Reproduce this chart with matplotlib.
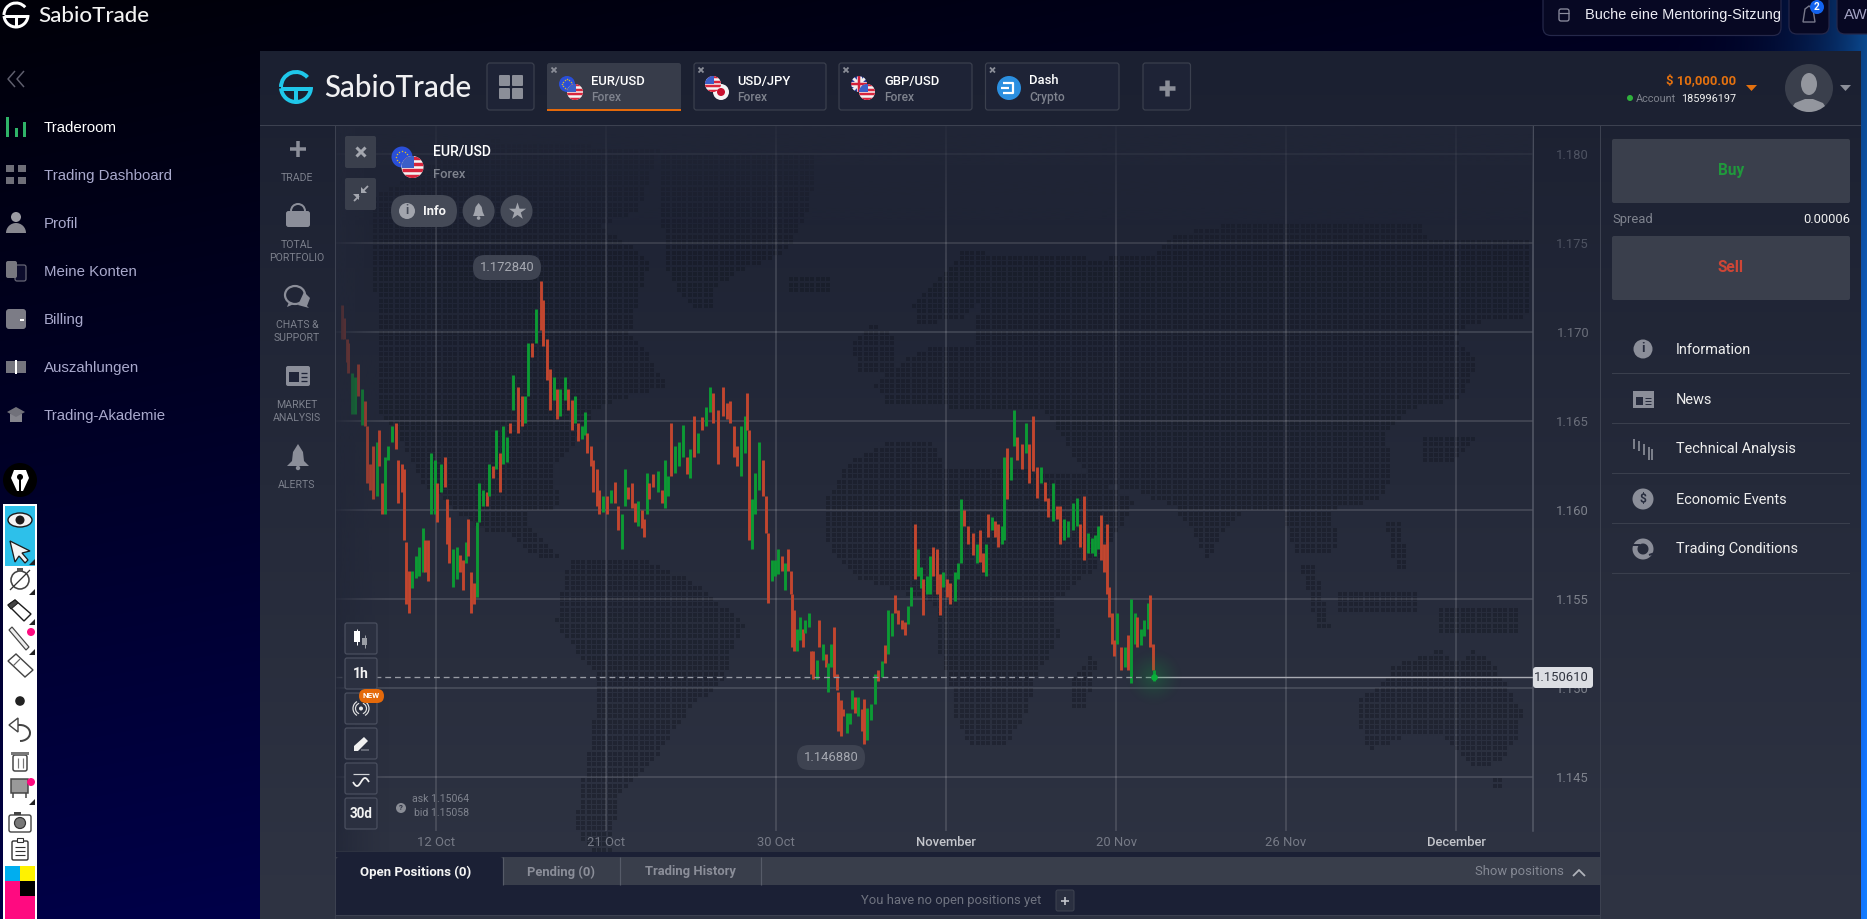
import numpy as np
import matplotlib
matplotlib.use("Agg")
import matplotlib.pyplot as plt
from matplotlib.patches import FancyBboxPatch, Circle, Polygon, Rectangle, Ellipse, Arc, Wedge
from matplotlib.path import Path

# ---------- DATA ----------
hours = [-94,-92,-89,-88,-84,-81,-78,-74,-71,-69,-66,-63,-59,-57,-54,-51,-48,-44,-40,-38,-34,-32,-30,-27,-24,-20,-17,-13,-11,-8,-5,-1,1,5,9,11,13,17,21,24,27,30,32,35,38,41,43,47,51,53,57,60,64,67,71,74,77,82,86,89,92,96,100,105,107,111,114,118,121,124,129,132,136,139,142,146,149,151,155,157,161,163,167,171,175,179,182,186,189,192,196,199,202,206,208,211,213,217,222,226,229,232,235,239,243,247,251,254,258,262,266,270,274,277,282,287,291,294,298,301,305,309,311,313,316,319,323,327,330,332,
 336,339,342,346,349,352,355,356,358,361,364,367,369,373,375,377,381,383,387,390,392,395,398,401,402,405,407,411,414,416,419,422,426,428,431,435,439,442,446,449,452,456,459,462,466,469,472,475,479,482,485,487,491,494,497,501,504,507,511,514,519,522,525,528,532,537,541,544,547,550,552,556,559,562,566,568,571,575,578,581,586,590,593,597,601,605,609,612,617,621,624,628,632,637,641,644,648,652,656,659,662,665,668,671,673,676,678,681,685,689,692,695,699,701,705,708,712,714,717,718]
highs = [1.1715,1.1708,1.1696,1.1694,1.1677,1.1675,1.1682,1.1668,1.1661,1.1647,1.1626,1.1636,1.1638,1.1645,1.1615,1.1630,1.1636,1.1647,1.1649,1.1628,1.1626,1.1623,1.1582,1.1566,1.1566,1.1574,1.1579,1.1590,1.1583,1.1583,1.1632,1.1628,1.1615,1.1626,1.1630,1.1606,1.1596,1.1578,1.1579,1.1575,1.1572,1.1582,1.1595,1.1565,1.1559,1.1593,1.1615,1.1611,1.1610,1.1626,1.1625,1.1645,1.1632,1.1647,1.1641,1.1649,1.1676,1.1669,1.1664,1.1664,1.1694,1.1694,1.1713,1.17284,1.1718,1.1696,1.1679,1.1675,1.1668,1.1668,1.1675,1.1668,1.1662,1.1664,1.1649,1.1647,1.1655,1.1643,1.1636,1.1628,1.1623,1.1611,1.1608,1.1608,1.1611,1.1616,1.1602,1.1598,1.1623,1.1613,1.1615,1.1604,1.1605,1.1600,1.1595,1.1621,1.1615,1.1620,1.1622,1.1611,1.1628,1.1619,1.1649,1.1636,1.1638,1.1648,1.1630,1.1634,1.1653,1.1643,1.1652,1.1658,1.1669,1.1666,1.1656,1.1669,1.1660,1.1661,1.1647,1.1636,1.1647,1.1653,1.1666,1.1645,1.1606,1.1621,1.1638,1.1628,1.1608,1.1587,
 1.1572,1.1572,1.1578,1.1574,1.1570,1.1578,1.1566,1.1553,1.1544,1.1533,1.1540,1.1533,1.1538,1.1542,1.1521,1.1521,1.1516,1.1538,1.1525,1.1519,1.1514,1.1525,1.1534,1.1508,1.1498,1.1493,1.1488,1.1486,1.1486,1.1499,1.1495,1.1495,1.1488,1.1494,1.1489,1.1491,1.1508,1.1510,1.1515,1.1524,1.1544,1.1542,1.1552,1.1544,1.1538,1.1537,1.1546,1.1557,1.1592,1.1578,1.1568,1.1561,1.1563,1.1574,1.1579,1.1578,1.1564,1.1565,1.1561,1.1559,1.1565,1.1570,1.1606,1.1600,1.1591,1.1587,1.1581,1.1589,1.1576,1.1581,1.1598,1.1596,1.1594,1.1592,1.1591,1.1630,1.1635,1.1630,1.1656,1.1641,1.1637,1.1649,1.1637,1.1653,1.1624,1.1624,1.1616,1.1607,1.1615,1.1602,1.1602,1.1595,1.1594,1.1604,1.1607,1.1592,1.1608,1.1587,1.1584,1.1586,1.1591,1.1597,1.1581,1.1592,1.1557,1.1542,1.1527,1.1542,1.1523,1.1523,1.1530,1.1550,1.1542,1.1540,1.1533,1.1538,1.1548,1.1552,1.1525,1.1510]
lows = [1.1696,1.1696,1.1683,1.1677,1.1654,1.1654,1.1664,1.1648,1.1647,1.1615,1.1611,1.1606,1.1608,1.1625,1.1598,1.1598,1.1628,1.1638,1.1634,1.1604,1.1610,1.1583,1.1547,1.1542,1.1556,1.1562,1.1563,1.1565,1.1565,1.1560,1.1598,1.1598,1.1593,1.1610,1.1613,1.1581,1.1570,1.1557,1.1561,1.1565,1.1555,1.1570,1.1574,1.1542,1.1547,1.1551,1.1593,1.1602,1.1602,1.1608,1.1618,1.1623,1.1610,1.1626,1.1627,1.1643,1.1656,1.1643,1.1647,1.1649,1.1664,1.1686,1.1694,1.1701,1.1692,1.1673,1.1656,1.1662,1.1651,1.1653,1.1662,1.1656,1.1645,1.1649,1.1639,1.1640,1.1642,1.1632,1.1625,1.1610,1.1602,1.1598,1.1599,1.1598,1.1604,1.1604,1.1589,1.1578,1.1602,1.1606,1.1601,1.1593,1.1591,1.1590,1.1585,1.1598,1.1606,1.1613,1.1610,1.1604,1.1601,1.1608,1.1619,1.1621,1.1625,1.1630,1.1620,1.1618,1.1630,1.1632,1.1645,1.1647,1.1655,1.1649,1.1626,1.1653,1.1651,1.1649,1.1630,1.1625,1.1619,1.1632,1.1645,1.1583,1.1578,1.1598,1.1611,1.1608,1.1587,1.1548,
 1.1560,1.1563,1.1564,1.1566,1.1555,1.1566,1.1553,1.1523,1.1521,1.1521,1.1527,1.1523,1.1531,1.1534,1.1508,1.1505,1.1505,1.1523,1.1516,1.1512,1.1498,1.1512,1.1506,1.1499,1.1476,1.1473,1.1484,1.1475,1.1480,1.1488,1.1486,1.1484,1.1476,1.14688,1.1471,1.1482,1.1491,1.1504,1.1506,1.1514,1.1519,1.1529,1.1542,1.1536,1.1533,1.1530,1.1536,1.1546,1.1561,1.1563,1.1556,1.1541,1.1553,1.1553,1.1563,1.1553,1.1541,1.1557,1.1551,1.1547,1.1549,1.1561,1.1570,1.1591,1.1581,1.1575,1.1570,1.1571,1.1565,1.1563,1.1585,1.1589,1.1585,1.1579,1.1581,1.1583,1.1606,1.1617,1.1636,1.1628,1.1623,1.1632,1.1615,1.1622,1.1607,1.1615,1.1605,1.1596,1.1594,1.1595,1.1581,1.1583,1.1585,1.1589,1.1591,1.1579,1.1572,1.1576,1.1576,1.1574,1.1578,1.1572,1.1565,1.1553,1.1540,1.1525,1.1518,1.1525,1.1510,1.1512,1.1510,1.1503,1.1525,1.1523,1.1524,1.1529,1.1533,1.1523,1.1510,1.1504]
# u = the candle rose, d = the candle fell; ten candles per group
direction_groups = [
 "dddduududd","ddudduuudd","dddduuuudd","uududdduud","duddduuudu","duduududdu","ududdddudu",
 "udduduuddd","ddududduud","ddudduddud","uuduuududu","duuddddddd","uudduuuddd",
 "uuududdddu","uduuddudud","uuddddduuu","dudduuudud","uudddduudu","uduudddudd","uuuddduddu",
 "dudduuduud","duddduddud","duuuudduuu","uddddddudu","duuduuuddu",
]

last_price = 1.150610
peak_label = "1.172840"
trough_label = "1.146880"
time_ticks = [0, 170, 340, 510, 680, 850, 1020]
time_labels = ["12 Oct", "21 Oct", "30 Oct", "November", "20 Nov", "26 Nov", "December"]
price_ticks = [1.145, 1.150, 1.155, 1.160, 1.165, 1.170, 1.175, 1.180]
sidebar_items = ["Traderoom", "Trading Dashboard", "Profil", "Meine Konten", "Billing", "Auszahlungen", "Trading-Akademie"]
menu_items = ["Information", "News", "Technical Analysis", "Economic Events", "Trading Conditions"]

W, H = 1867, 919
DPI = 100
PX = 72.0 / DPI
ROB = "Roboto"
ARIAL = "Liberation Sans"

fig = plt.figure(figsize=(W / DPI, H / DPI), dpi=DPI)

# ---------- background layer ----------
bg = fig.add_axes([0, 0, 1, 1], zorder=0)
yy, xx = np.mgrid[0:H, 0:W]
edge = np.clip((xx - 1500) / 367.0, 0, 1) ** 6 * (0.55 + 0.45 * yy / H)
img = np.zeros((H, W, 3))
img[..., 2] = np.clip(8 + 62 * yy / H + 25 * xx / W + 190 * edge, 0, 255)
img[..., 1] = np.clip(130 * edge, 0, 255)
img[..., 0] = np.clip(20 * edge, 0, 255)
bg.imshow(img / 255.0, extent=(0, W, H, 0), aspect="auto", interpolation="bilinear")
pan = np.linspace(0, 1, 400)[:, None, None]
top_c, bot_c = np.array([27, 32, 49]), np.array([47, 52, 67])
bg.imshow((top_c + (bot_c - top_c) * pan) / 255.0, extent=(260, 1861, 919, 51), aspect="auto")
bg.set_xlim(0, W); bg.set_ylim(H, 0); bg.axis("off")

# dotted world map
continents = [
 [(490,140),(660,150),(640,210),(600,225),(650,260),(630,333),(647,350),(667,387),(627,397),(593,410),(573,447),(550,473),(563,507),(527,513),(530,530),(560,557),(540,560),(507,533),(483,530),(457,513),(420,480),(397,430),(377,413),(380,330),(372,270),(370,200),(420,170)],
 [(570,557),(555,623),(570,643),(597,677),(595,710),(590,743),(585,767),(580,793),(575,827),(590,850),(610,850),(620,793),(650,767),(665,743),(690,710),(725,677),(735,643),(745,623),(690,580),(640,557)],
 [(663,152),(818,152),(812,192),(806,216),(795,238),(778,256),(743,270),(715,288),(712,309),(695,309),(677,291),(666,263),(663,227)],
 [(790,275),(830,275),(830,290),(790,290)],
 [(850,345),(870,324),(893,335),(893,370),(860,370)],
 [(913,302),(944,274),(961,252),(1042,254),(1099,259),(1162,252),(1168,238),(1226,224),(1421,222),(1426,238),(1530,238),(1530,316),(1467,324),(1455,341),(1478,363),(1461,399),(1409,409),(1386,434),(1392,477),(1380,499),(1329,511),(1340,538),(1329,556),(1294,552),(1283,513),(1243,513),(1220,538),(1208,563),(1194,531),(1174,507),(1134,491),(1099,481),(1076,463),(1059,431),(1042,409),(887,406),(875,384),(921,349),(973,345),(979,302),(961,320),(916,324)],
 [(893,441),(933,441),(944,466),(1088,474),(1134,502),(1128,516),(1093,570),(1053,602),(1059,638),(1036,677),(1027,713),(1007,743),(967,743),(953,710),(950,680),(940,657),(940,613),(927,600),(857,577),(840,563),(823,537),(824,502),(852,459)],
 [(1070,680),(1090,657),(1097,665),(1085,707),(1072,707)],
 [(1358,700),(1375,690),(1395,665),(1425,655),(1440,650),(1460,665),(1475,650),(1490,660),(1497,670),(1515,700),(1522,710),(1520,735),(1505,755),(1490,767),(1470,765),(1450,745),(1445,735),(1410,735),(1385,745),(1368,750),(1360,725)],
 [(1492,778),(1505,778),(1505,788),(1492,788)],
 [(1424,434),(1484,434),(1450,463),(1424,463)],
 [(1340,591),(1415,591),(1415,613),(1340,613)],
 [(1438,609),(1518,609),(1518,634),(1438,634)],
 [(1300,566),(1315,566),(1330,627),(1318,627)],
 [(1386,524),(1400,524),(1409,570),(1395,570)],
]
gx, gy = np.meshgrid(np.arange(338, 1533, 5.33), np.arange(130, 852, 5.33))
pts = np.c_[gx.ravel(), gy.ravel()]
inside = np.zeros(len(pts), bool)
for poly_pts in continents:
    inside |= Path(poly_pts).contains_points(pts)
bg.scatter(pts[inside, 0], pts[inside, 1], s=5.0, marker="s", c="#10131d", alpha=0.38, linewidths=0)

# ---------- price chart ----------
ax = fig.add_axes([336 / W, 1 - 831 / H, (1533 - 336) / W, (831 - 126) / H], zorder=1)
ax.patch.set_visible(False)
ax.set_xlim(336 - 436, 1533 - 436)
ax.set_ylim(1.15 - (831 - 688) / 17800.0, 1.175 + (243 - 126) / 17800.0)
for s in ax.spines.values():
    s.set_visible(False)
ax.spines["right"].set_visible(True)
ax.spines["right"].set_color("#555a68")
ax.spines["right"].set_linewidth(1.1)
ax.set_xticks(time_ticks)
ax.set_xticklabels(time_labels)
ax.set_yticks(price_ticks)
ax.set_yticklabels([f"{p:.3f}" for p in price_ticks])
ax.yaxis.tick_right()
ax.tick_params(axis="x", length=0, pad=3.8, labelsize=13 * PX, labelcolor="#767a86")
ax.tick_params(axis="y", length=0, pad=56 * PX, labelsize=13 * PX)
for lab in ax.get_xticklabels():
    lab.set_family(ROB)
    if lab.get_text() in ("November", "December"):
        lab.set_color("#c4c6cc"); lab.set_fontweight("medium")
for lab, p in zip(ax.get_yticklabels(), price_ticks):
    lab.set_family(ROB); lab.set_ha("right")
    lab.set_color("#4e5362" if p > 1.172 else "#6a6e7a" if p > 1.16 else "#7e828c")
ax.grid(True, color="#ffffff", alpha=0.17, linewidth=1.5 * PX)
ax.set_axisbelow(True)

up = list("".join(direction_groups))
cols = ["#0c9a34" if u == "u" else "#c2462f" for u in up]
ax.vlines(hours, lows, highs, colors=cols, linewidth=2.9 * PX, zorder=3)
ax.hlines(last_price, -100, hours[-1], colors="#989ba4", linewidth=1.3 * PX, linestyles=(0, (4.5, 3)), zorder=4)
ax.hlines(last_price, hours[-1], 1097, colors="#a9abb3", linewidth=1.4 * PX, zorder=4)
ax.plot([hours[-1]], [last_price], "o", ms=6.5 * PX, color="#08b23a", mew=0, zorder=6)

# ---------- UI layer ----------
ui = fig.add_axes([0, 0, 1, 1], zorder=2)
ui.patch.set_visible(False)
ui.axis("off")

def overlay(extent, alpha, color=(34, 39, 56)):
    a = np.zeros(alpha.shape + (4,))
    a[..., :3] = np.array(color) / 255.0
    a[..., 3] = alpha
    ui.imshow(a, extent=extent, aspect="auto", interpolation="bilinear", zorder=0.5)

overlay((336, 1533, 260, 126), np.linspace(0.85, 0, 200)[:, None])
overlay((336, 390, 851, 126), np.linspace(0.9, 0, 60)[None, :] ** 1.3)
rr = np.hypot(*np.mgrid[-1:1:80j, -1:1:80j])
overlay((1154 - 30, 1154 + 30, 677 + 30, 677 - 30), np.clip(1 - rr, 0, 1) ** 1.5 * 0.28, color=(10, 170, 60))

def rect(x0, y0, x1, y1, fc, ec="none", lw=0, z=1, alpha=None):
    p = Rectangle((x0, y0), x1 - x0, y1 - y0, fc=fc, ec=ec, lw=lw * PX, zorder=z, alpha=alpha)
    ui.add_patch(p); return p

def rr_box(x0, y0, x1, y1, r, fc, ec="none", lw=1.2, z=1, alpha=None):
    p = FancyBboxPatch((x0 + r, y0 + r), x1 - x0 - 2 * r, y1 - y0 - 2 * r,
                       boxstyle=f"round,pad={r},rounding_size={r}", fc=fc, ec=ec, lw=lw * PX, zorder=z, alpha=alpha)
    ui.add_patch(p); return p

def txt(x, y, s, px, c="#ffffff", ha="left", fam=ROB, w="normal", z=5):
    return ui.text(x, y + 1, s, fontsize=px * PX, color=c, ha=ha, va="center", family=fam, fontweight=w, zorder=z)

def line(xs, ys, c, lw=1.2, z=3, **k):
    return ui.plot(xs, ys, color=c, lw=lw * PX, zorder=z, solid_capstyle=k.pop("cap", "butt"), **k)

def circ(x, y, r, fc, ec="none", lw=0, z=3):
    p = Circle((x, y), r, fc=fc, ec=ec, lw=lw * PX, zorder=z)
    ui.add_patch(p); return p

def poly(pts_, fc, ec="none", lw=0, z=3):
    p = Polygon(pts_, closed=True, fc=fc, ec=ec, lw=lw * PX, zorder=z)
    ui.add_patch(p); return p

def cross(x, y, s, c, lw=2.5, z=4):
    line([x - s, x + s], [y - s, y + s], c, lw, z)
    line([x - s, x + s], [y + s, y - s], c, lw, z)

def plus(x, y, s, c, lw=3.5, z=4):
    line([x - s, x + s], [y, y], c, lw, z)
    line([x, x], [y - s, y + s], c, lw, z)

def logo(x, y, r, c, lw):
    ui.add_patch(Arc((x, y), 2 * r, 2 * r, theta1=180, theta2=320, ec=c, lw=lw * PX, zorder=5))
    ui.add_patch(Arc((x, y), 2 * r, 2 * r, theta1=0, theta2=175, ec=c, lw=lw * PX, zorder=5))
    line([x - r, x + r], [y + r * 0.12, y + r * 0.12], c, lw, 5)
    line([x, x], [y + r * 0.12, y + r], c, lw, 5)

def us_flag(x, y, r, z=4):
    c = circ(x, y, r, "#f4f4f4", z=z)
    for k in range(-3, 4, 2):
        l = line([x - r, x + r], [y + k * r / 3.5, y + k * r / 3.5], "#d8253c", r / 3.2, z + 0.1)[0]
        l.set_clip_path(c)
    b = rect(x - r, y - r, x + r * 0.1, y + r * 0.05, "#3b5fc8", z=z + 0.2)
    b.set_clip_path(c)

def eu_flag(x, y, r, z=3.5):
    circ(x, y, r, "#2a4fd8", z=z)
    ang = np.linspace(0, 2 * np.pi, 12, endpoint=False)
    ui.scatter(x + 0.6 * r * np.cos(ang), y + 0.6 * r * np.sin(ang), s=1.2, c="#d9b92a", linewidths=0, zorder=z + 0.1)

def uk_flag(x, y, r, z=3.5):
    c = circ(x, y, r, "#2b3f9e", z=z)
    for a, b_, col, lw_ in [((x - r, y - r), (x + r, y + r), "#eeeeee", 3), ((x - r, y + r), (x + r, y - r), "#eeeeee", 3),
                            ((x - r, y), (x + r, y), "#eeeeee", 5), ((x, y - r), (x, y + r), "#eeeeee", 5),
                            ((x - r, y), (x + r, y), "#d2203a", 2.5), ((x, y - r), (x, y + r), "#d2203a", 2.5)]:
        l = line([a[0], b_[0]], [a[1], b_[1]], col, lw_, z + 0.1)[0]
        l.set_clip_path(c)

# --- top bar ---
logo(16, 15, 12, "#ffffff", 3)
txt(38, 15, "SabioTrade", 22.4, "#f2f2f2", fam="Lato", w="medium")
rr_box(1543, -12, 1781, 35.5, 8, "#070823", "#25284a")
rr_box(1559, 9, 1569, 21, 2, "none", "#8d8ea0", 1.3, z=3)
line([1559, 1569], [12.5, 12.5], "#8d8ea0", 1.2, 4)
txt(1585, 14, "Buche eine Mentoring-Sitzung", 14.5, "#ececf4", fam=ARIAL)
rr_box(1789, -12, 1829, 34, 8, "#070823", "#25284a")
poly([(1803, 22), (1805, 9), (1809, 6), (1813, 9), (1815, 22)], "none", "#77788a", 1.4)
circ(1817, 7, 7, "#1262ee", z=4)
txt(1817, 6, "2", 10, "#ffffff", ha="center", w="bold")
rr_box(1837, -12, 1880, 34, 8, "#070823", "#25284a")
txt(1844, 14, "AW", 15, "#a4a4c4", fam=ARIAL)

# --- sidebar ---
line([15, 8, 15], [71, 79, 87], "#5f5f6e", 1.5, 4)
line([24, 17, 24], [71, 79, 87], "#5f5f6e", 1.5, 4)
side_cols = ["#ffffff"] + ["#a9a9cc"] * 6
for k, (name, c) in enumerate(zip(sidebar_items, side_cols)):
    txt(44, 127 + 48 * k, name, 15, c, fam=ARIAL)
for bx, y0 in [(6, 117), (15, 128), (23, 122)]:
    rect(bx, y0, bx + 3, 137, "#2fb468")
for bx, by in [(6, 165), (18, 165), (6, 177), (18, 177)]:
    rect(bx, by, bx + 8, by + 7, "#6f6f78")
circ(16, 217, 5, "#9c9ca4")
ui.add_patch(Wedge((16, 233), 10, 180, 360, fc="#87878f", zorder=3))
rr_box(6, 261, 17, 278, 2, "#77777f", z=3)
rr_box(15, 265, 26, 281, 2, "#0c0c2c", "#6a6a78", z=2.5)
rr_box(6, 309, 26, 329, 3, "#7c7c86", z=3)
rect(20, 319, 24, 321, "#ffffff", z=4)
rect(6, 361, 26, 373, "#75757e", z=3)
rect(15, 360, 17, 374, "#ffffff", z=4)
poly([(7, 412), (16, 407), (25, 412), (16, 417)], "#71717a")
rect(10, 414, 22, 422, "#85858d", z=2.8)

# --- drawing tool strip ---
circ(20, 480, 17, "#000000")
poly([(14, 470), (26, 470), (29, 478), (23, 491), (17, 491), (11, 478)], "#ffffff", z=4)
circ(20, 477, 3, "#000000", z=5)
rect(19.3, 478, 20.7, 491, "#000000", z=5)
rect(3, 504, 37, 919, "#ffffff", z=1)
rect(5, 506, 35, 566, "#2dc0ea", z=1.1)
K = "#1c1c1c"
ui.add_patch(Ellipse((20, 520), 24, 14, fc="#f4f4f4", ec=K, lw=1.4 * PX, zorder=3))
circ(20, 520, 4.5, K, z=4)
poly([(10, 541), (30, 551), (22, 553), (28, 560), (25, 563), (19, 556), (15, 562)], "#f4f4f4", K, 1.3)
circ(20, 580, 9, "#ffffff", "#444444", 1.6)
line([10, 30], [590, 570], "#333333", 1.3, 4)
rect(17, 568, 23, 571, "#555555", z=4)
poly([(8, 605), (15, 600), (31, 614), (24, 621)], "#ffffff", K, 1.4)
poly([(8, 605), (15, 600), (18, 603), (11, 609)], "#444444", K, 1)
poly([(9, 630), (12, 627), (29, 647), (26, 650)], "#eeeeee", "#444444", 1.2)
poly([(8, 661), (16, 654), (33, 670), (25, 677)], "#ffffff", "#444444", 1.4)
line([13, 20], [666, 659], "#666666", 1.2, 4)
circ(20, 701, 4.8, "#222222")
ui.add_patch(Arc((20, 733), 20, 16, theta1=-110, theta2=90, ec="#444444", lw=2 * PX, zorder=3))
poly([(9, 725), (18, 718), (18, 732)], "#ffffff", "#444444", 1.4)
rr_box(13, 755, 27, 771, 2, "#ffffff", "#444444", 1.5, z=3)
rect(11, 752, 29, 755, "#777777", z=3)
line([17.5, 17.5], [758, 768], "#777777", 1.2)
line([22.5, 22.5], [758, 768], "#777777", 1.2)
rect(11, 779, 28, 793, "#999999", "#444444", 1.5)
line([13, 13], [793, 798], "#444444", 1.5)
line([26, 26], [793, 798], "#444444", 1.5)
rr_box(9, 815, 31, 832, 2, "#ffffff", "#444444", 1.4, z=3)
circ(20, 823, 5.5, "#777777", "#333333", 1.2, z=4)
rect(14, 812, 21, 815, "#444444", z=3)
rr_box(12, 841, 28, 860, 1.5, "#ffffff", "#333333", 1.4, z=3)
rect(17, 838, 23, 842, "#ffffff", "#333333", 1.1, z=3.5)
for ly in (847, 851, 855):
    line([15, 25], [ly, ly], "#333333", 1.1, 4)
for ty in (565, 595, 625, 655, 805):
    poly([(35, ty - 6), (35, ty), (28.5, ty)], "#222222")
circ(31, 632, 4, "#ff0a80", z=4)
circ(31, 782, 4, "#ff0a80", z=4)
rect(5, 866, 20, 881, "#00aeef", z=2)
rect(20, 866, 35, 881, "#fff200", z=2)
rect(5, 881, 35, 919, "#ff0a80", z=2)
rect(20, 881, 35, 896, "#000000", z=2.1)

# --- panel chrome ---
SEP = "#3c4150"
rect(260, 124.5, 1861, 125.8, SEP, z=1)
rect(335, 126, 336, 919, SEP, z=1)
rect(1600, 126, 1601, 919, SEP, z=1)
logo(296, 87, 15, "#1fc7ea", 4)
txt(324, 87, "SabioTrade", 29.6, "#f0f0f2", fam="Lato", w="medium")
BORDER = "#3b404e"
PANEL = "#1e2336"
rr_box(487, 63, 534, 110, 3, PANEL, BORDER)
for bx, by in [(499, 75), (512, 75), (499, 88), (512, 88)]:
    rr_box(bx, by, bx + 11, by + 11, 1, "#8b8e98", z=3)
tabs = [(547, 681, "EUR/USD", "Forex", 591.5), (694, 826, "USD/JPY", "Forex", 737.5),
        (839, 972, "GBP/USD", "Forex", 884), (985.5, 1119, "Dash", "Crypto", 1029.5)]
for k, (x0, x1, a, b_, tx) in enumerate(tabs):
    rr_box(x0, 63, x1, 110, 2.5, "#373c4a" if k == 0 else PANEL, "none" if k == 0 else BORDER)
    cross(x0 + 7, 70, 2.5, "#8b8e98", 1.8)
    txt(tx, 80, a, 13, "#ffffff", w="medium")
    txt(tx, 96.5, b_, 12, "#7f838e", w="medium")
rect(547, 109, 681, 111, "#e4690a", z=3)
eu_flag(567, 84, 8); us_flag(575, 92, 8)
us_flag(713, 84, 8)
circ(721, 92, 8, "#f4f4f4", z=4); circ(721, 92, 4, "#c8102e", z=4.2)
uk_flag(859, 84, 8); us_flag(867, 92, 8)
circ(1009, 88, 12, "#2b8fe0")
line([1003, 1013, 1013, 1003], [83, 83, 93, 93], "#ffffff", 2.2, 4)
line([1001, 1009], [88, 88], "#ffffff", 2.2, 4)
rr_box(1143, 63, 1190.5, 110, 2.5, PANEL, BORDER)
plus(1167, 88, 8, "#8b8e98", 4.5)

txt(1736, 79.5, "$ 10,000.00", 13, "#e4710f", ha="right", w="bold")
poly([(1746, 85), (1757, 85), (1751.5, 91)], "#e4710f")
circ(1630, 98, 3, "#2fb13c")
txt(1636, 97.5, "Account", 10.9, "#7f838e")
txt(1736, 97.5, "185996197", 10.9, "#f0f0f0", ha="right")
av = circ(1809, 88, 24, "#3a3f4c")
ui.add_patch(Ellipse((1809, 84), 16, 22, fc="#93969e", zorder=4))
body = poly([(1789, 112), (1795, 103), (1805, 99), (1813, 99), (1823, 103), (1829, 112)], "#93969e", z=4)
body.set_clip_path(av)
poly([(1840, 85), (1851, 85), (1845.5, 91)], "#8b8e98")

# --- left tool column ---
G = "#8b8e99"
plus(298, 149, 8, G, 3.5)
for y_, s in [(177, "TRADE"), (244, "TOTAL"), (257, "PORTFOLIO"), (324, "CHATS &"), (337, "SUPPORT"),
              (404, "MARKET"), (417, "ANALYSIS"), (484, "ALERTS")]:
    txt(297, y_, s, 10.5, "#7c808c", ha="center")
rr_box(286, 211, 310, 227, 2.5, G, z=3)
ui.add_patch(Arc((298, 211), 14, 14, theta1=180, theta2=360, ec=G, lw=2 * PX, zorder=3))
ui.add_patch(Ellipse((295, 295), 20, 18, fc="none", ec=G, lw=2.2 * PX, zorder=3))
poly([(289, 302), (287, 307), (294, 304)], G)
poly([(304, 292), (310, 298), (307, 306), (309, 308), (298, 305)], G)
rr_box(286, 366, 310, 386, 2, G, z=3)
rect(289, 372, 299, 382, "#1f2438", z=4)
for ly in (373, 377, 381):
    line([301, 307], [ly, ly], "#1f2438", 1.3, 4)
poly([(287, 466), (292, 461), (293, 452), (298, 444), (303, 452), (304, 461), (309, 466)], G)
circ(298, 468, 2.2, G)

# --- chart overlay controls ---
BTN = "#3a3f4c"
rr_box(345, 136, 376, 168, 2, BTN)
cross(361, 152, 4.5, "#a4a7af", 3)
rr_box(345, 178, 376, 210, 2, BTN)
line([354, 359], [201, 196], "#a4a7af", 1.8, 4)
poly([(359, 194), (359, 200), (353, 194)], "#a4a7af", z=4)
line([362, 368], [192, 186], "#a4a7af", 1.8, 4)
poly([(361, 193), (361, 187), (367, 193)], "#a4a7af", z=4)
eu_flag(402, 157, 10.5); us_flag(412.5, 167, 11)
txt(433, 150, "EUR/USD", 14, "#ffffff", w="medium")
txt(433, 173, "Forex", 13, "#7f838e", w="medium")
rr_box(391, 195, 457, 227, 16, "#454a57")
circ(407, 211, 8, "#a2a5ad", z=3); txt(407, 210, "i", 12, "#454a57", ha="center", w="bold")
txt(423, 210.5, "Info", 13, "#f4f4f4", w="bold")
for cx in (478.6, 516.5):
    circ(cx, 211, 16, "#454a57", z=2)
poly([(473, 216), (474.5, 212), (475.5, 207), (478.6, 203), (481.7, 207), (482.7, 212), (484.5, 216)], "#a2a5ad")
circ(478.6, 218, 1.8, "#a2a5ad")
ui.scatter([516.5], [211], marker="*", s=170, c="#a2a5ad", linewidths=0, zorder=4)

for y0 in (623, 658, 693, 728, 763, 798):
    rr_box(345, y0, 377, y0 + 31, 2, "#2b3040", "#4b5060", 1.2, z=2)
rect(354, 631, 360, 642, "#ffffff", z=3)
rect(362, 638, 367, 645, "#9a9da5", z=3)
line([357, 357], [629, 645], "#ffffff", 1, 3)
line([364.5, 364.5], [635, 648], "#9a9da5", 1, 3)
txt(361, 673, "1h", 14, "#f2f2f2", ha="center", w="bold")
circ(361, 708.5, 2, "#e8e8e8", z=3)
ui.add_patch(Arc((361, 708.5), 11, 11, theta1=110, theta2=250, ec="#e0e0e0", lw=1.2 * PX, zorder=3))
ui.add_patch(Arc((361, 708.5), 11, 11, theta1=-70, theta2=70, ec="#e0e0e0", lw=1.2 * PX, zorder=3))
ui.add_patch(Arc((361, 708.5), 16, 16, theta1=120, theta2=240, ec="#e0e0e0", lw=1.2 * PX, zorder=3))
ui.add_patch(Arc((361, 708.5), 16, 16, theta1=-60, theta2=60, ec="#e0e0e0", lw=1.2 * PX, zorder=3))
rr_box(359, 689, 384, 703, 7, "#e4690a", z=4)
txt(371.5, 695, "NEW", 8, "#ffffff", ha="center", w="bold", z=6)
poly([(354, 751), (354, 746), (364, 737), (368, 741), (358, 751)], "#f0f0f0")
line([361, 369], [750, 750], "#777b87", 1.5, 4)
line([353, 369], [774, 774], "#d0d2d6", 1.2, 4)
tw = np.linspace(0, 1, 40)
line(353 + 16 * tw, 782 + 4 * np.sin(tw * 2 * np.pi), "#f0f0f0", 1.8, 4)
txt(361, 813, "30d", 13.5, "#f2f2f2", ha="center", w="bold")
circ(401, 808, 5, "#8a8d96", z=3); txt(401, 807, "?", 8, "#2d3241", ha="center", w="bold")
txt(469, 797.5, "ask 1.15064", 10.5, "#7f838e", ha="right")
txt(469, 812.5, "bid 1.15058", 10.5, "#7f838e", ha="right")

rr_box(473, 255, 541, 280, 12, "#3e4351", z=2)
txt(507, 266.5, peak_label, 13, "#a6a9b1", ha="center")
rr_box(797, 745, 865, 770, 12, "#3e4351", z=2)
txt(831, 756.5, trough_label, 13, "#a6a9b1", ha="center")
rr_box(1533, 667, 1593, 688, 3, "#dcdee3", z=4)
txt(1589, 676.5, f"{last_price:.6f}", 13, "#30343f", ha="right", z=6)

# --- right column ---
rr_box(1612, 139, 1850, 203, 2, BTN)
txt(1731, 170, "Buy", 15.5, "#20993c", ha="center", w="bold")
txt(1612, 218.5, "Spread", 13, "#7f838e")
txt(1850, 218.5, "0.00006", 13, "#f0f0f0", ha="right")
rr_box(1612, 236, 1850, 300, 2, BTN)
txt(1731, 267, "Sell", 15.5, "#cf4636", ha="center", w="bold")
for k, name in enumerate(menu_items):
    txt(1676, 348.5 + 50 * k, name, 14.5, "#eeeeee")
    rect(1612, 372.5 + 50 * k, 1850, 373.5 + 50 * k, "#3a3f4d", z=2)
IG = "#8b8e99"
circ(1643, 349, 9.5, IG); txt(1643, 348, "i", 13, "#262b3d", ha="center", w="bold")
rect(1633, 391, 1654, 408, IG)
rect(1636, 397, 1643, 405, "#262b3d", z=4)
for ly in (398, 401, 404):
    line([1645, 1651], [ly, ly], "#262b3d", 1, 4)
for bx, y0, y1 in [(1634, 439, 449), (1639, 441, 451), (1644, 444, 455), (1649, 447, 460), (1652, 449, 460)]:
    line([bx, bx], [y0, y1], IG, 1.7)
circ(1643, 499, 10.5, IG); txt(1643, 498, "$", 12, "#262b3d", ha="center", w="bold")
ui.add_patch(Wedge((1643, 549), 10.5, 0, 360, width=5, fc=IG, zorder=3))
line([1633, 1640], [545, 545], "#262b3d", 2, 4)
line([1649, 1655], [555, 553], "#262b3d", 2, 4)

# --- bottom tabs ---
rect(336, 852, 1600, 857, "#1b2035", z=1)
rect(336, 857, 1600, 885, "#393e4b", z=1)
rr_box(336, 857, 503, 895, 3, "#1b2035", z=1.1)
rect(336, 885, 1600, 915, "#1b2035", z=1.2)
line([503, 503], [857, 885], "#565b68", 1.2, 2)
line([619.5, 619.5], [857, 885], "#565b68", 1.2, 2)
line([761, 761], [857, 885], "#565b68", 1.2, 2)
rect(336, 915, 1600, 916, "#3c4150", z=2)
txt(416, 871, "Open Positions (0)", 13.2, "#f5f5f5", ha="center", w="bold")
txt(561, 871, "Pending (0)", 13, "#8b8e99", ha="center", w="bold")
txt(690, 871, "Trading History", 13, "#8b8e99", ha="center", w="bold")
txt(1564, 871, "Show positions", 13, "#858994", ha="right")
line([1573, 1579, 1585], [876, 870, 876], "#b0b3ba", 1.8, 4)
txt(951, 899.5, "You have no open positions yet", 13, "#6f7380", ha="center")
rr_box(1056, 890, 1074, 911, 2, "#2a2f40", "#3e4351", 1, z=2)
plus(1065, 900.5, 4, "#c8cad0", 1.6)

ui.set_xlim(0, W)
ui.set_ylim(H, 0)
fig.savefig("out.png", dpi=DPI)
